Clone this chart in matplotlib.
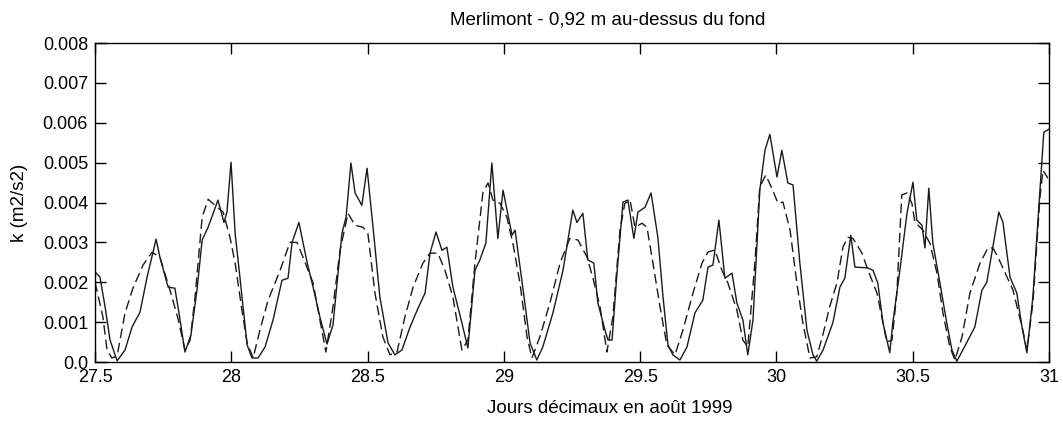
import numpy as np
import matplotlib
matplotlib.use("Agg")
import matplotlib.pyplot as plt

plt.rcParams['font.family'] = ['Liberation Sans', 'DejaVu Sans']

# measured k (solid line), values in 1e-3 m2/s2
t_mes = [27.500, 27.518, 27.537, 27.555, 27.581, 27.610, 27.636, 27.665, 27.691, 27.724,
         27.738, 27.768, 27.793, 27.808, 27.830, 27.852, 27.874, 27.893, 27.915, 27.951,
         27.973, 27.984, 27.999, 28.014, 28.032, 28.058, 28.076, 28.098, 28.124, 28.153,
         28.186, 28.208, 28.223, 28.248, 28.278, 28.300, 28.325, 28.351, 28.373, 28.406,
         28.421, 28.439, 28.454, 28.479, 28.498, 28.520, 28.545, 28.575, 28.600, 28.626,
         28.656, 28.685, 28.711, 28.729, 28.751, 28.773, 28.791, 28.813, 28.846, 28.868,
         28.894, 28.912, 28.934, 28.956, 28.978, 28.997, 29.030, 29.041, 29.066, 29.096,
         29.121, 29.143, 29.180, 29.217, 29.253, 29.268, 29.290, 29.308, 29.330, 29.345,
         29.371, 29.382, 29.397, 29.415, 29.437, 29.455, 29.477, 29.492, 29.518, 29.540,
         29.565, 29.584, 29.602, 29.620, 29.646, 29.672, 29.701, 29.730, 29.749, 29.767,
         29.789, 29.811, 29.837, 29.855, 29.877, 29.895, 29.914, 29.939, 29.958, 29.976,
         30.002, 30.020, 30.042, 30.061, 30.086, 30.112, 30.134, 30.148, 30.171, 30.207,
         30.233, 30.251, 30.273, 30.288, 30.336, 30.354, 30.372, 30.391, 30.416, 30.427,
         30.453, 30.479, 30.501, 30.515, 30.534, 30.545, 30.559, 30.574, 30.600, 30.625,
         30.644, 30.662, 30.684, 30.728, 30.754, 30.772, 30.794, 30.816, 30.831, 30.857,
         30.882, 30.901, 30.919, 30.941, 30.967, 30.981, 31.000]
k_mes = [2.26, 2.13, 1.38, 0.55, 0.03, 0.30, 0.88, 1.25, 2.13, 3.08,
         2.63, 1.88, 1.85, 1.23, 0.25, 0.68, 1.80, 3.06, 3.38, 4.06,
         3.50, 3.76, 5.01, 3.23, 2.10, 0.43, 0.10, 0.10, 0.38, 1.05,
         2.05, 2.10, 3.00, 3.50, 2.50, 1.88, 1.13, 0.45, 0.93, 3.23,
         3.63, 4.99, 4.24, 3.93, 4.86, 3.38, 1.63, 0.48, 0.18, 0.30,
         0.88, 1.35, 1.73, 2.73, 3.26, 2.80, 2.88, 1.88, 0.98, 0.35,
         2.30, 2.56, 2.98, 4.99, 3.10, 4.31, 3.18, 3.31, 2.05, 0.48,
         0.05, 0.38, 1.23, 2.30, 3.81, 3.50, 3.73, 2.56, 2.48, 1.48,
         0.80, 0.55, 0.55, 2.23, 4.01, 4.06, 3.10, 3.76, 3.88, 4.24,
         3.13, 1.63, 0.43, 0.18, 0.05, 0.38, 1.23, 1.55, 2.38, 2.43,
         3.56, 2.10, 2.23, 1.48, 1.05, 0.18, 1.05, 4.31, 5.31, 5.71,
         4.64, 5.31, 4.49, 4.44, 2.48, 0.80, 0.18, 0.02, 0.30, 0.98,
         1.88, 2.10, 3.18, 2.38, 2.36, 2.30, 1.98, 0.98, 0.23, 0.98,
         2.30, 3.73, 4.51, 3.56, 3.43, 2.86, 4.36, 2.98, 1.98, 0.98,
         0.30, 0.02, 0.30, 0.88, 1.80, 2.00, 2.88, 3.76, 3.51, 2.13,
         1.73, 0.88, 0.23, 1.63, 4.31, 5.76, 5.84]

# modelled k (dashed line), values in 1e-3 m2/s2
t_mod = [27.500, 27.529, 27.544, 27.562, 27.581, 27.610, 27.639, 27.676, 27.709, 27.738,
         27.775, 27.804, 27.830, 27.849, 27.867, 27.893, 27.915, 27.940, 27.970, 27.995,
         28.014, 28.039, 28.058, 28.080, 28.105, 28.135, 28.179, 28.215, 28.241, 28.263,
         28.300, 28.347, 28.373, 28.399, 28.428, 28.454, 28.483, 28.501, 28.527, 28.556,
         28.582, 28.608, 28.637, 28.667, 28.703, 28.729, 28.758, 28.784, 28.813, 28.846,
         28.868, 28.894, 28.923, 28.942, 28.960, 28.986, 29.011, 29.033, 29.059, 29.085,
         29.103, 29.132, 29.169, 29.206, 29.242, 29.272, 29.305, 29.327, 29.353, 29.378,
         29.400, 29.426, 29.444, 29.463, 29.481, 29.507, 29.525, 29.547, 29.573, 29.598,
         29.628, 29.657, 29.694, 29.727, 29.749, 29.774, 29.800, 29.822, 29.855, 29.877,
         29.895, 29.921, 29.939, 29.961, 29.983, 30.006, 30.024, 30.050, 30.075, 30.097,
         30.123, 30.148, 30.171, 30.196, 30.222, 30.244, 30.262, 30.281, 30.314, 30.336,
         30.369, 30.391, 30.405, 30.424, 30.442, 30.460, 30.479, 30.497, 30.508, 30.537,
         30.563, 30.589, 30.611, 30.636, 30.655, 30.681, 30.710, 30.747, 30.776, 30.794,
         30.813, 30.846, 30.868, 30.904, 30.919, 30.941, 30.967, 30.978, 30.996]
k_mod = [2.00, 1.13, 0.30, 0.10, 0.15, 1.23, 1.85, 2.43, 2.75, 2.63,
         1.80, 1.10, 0.30, 0.55, 1.63, 3.63, 4.08, 3.93, 3.76, 3.13,
         2.48, 1.30, 0.48, 0.10, 0.80, 1.55, 2.30, 3.00, 3.00, 2.63,
         1.98, 0.25, 1.38, 2.80, 3.73, 3.43, 3.38, 3.23, 1.73, 0.63,
         0.18, 0.25, 1.13, 1.88, 2.48, 2.73, 2.73, 2.30, 1.63, 0.30,
         0.55, 2.48, 4.24, 4.49, 4.06, 3.98, 3.63, 2.98, 1.98, 0.63,
         0.10, 0.63, 1.48, 2.48, 3.10, 3.06, 2.63, 2.10, 1.38, 0.25,
         1.13, 3.31, 3.98, 4.06, 3.38, 3.48, 3.38, 2.48, 1.38, 0.43,
         0.18, 0.80, 1.73, 2.48, 2.76, 2.81, 2.30, 1.98, 1.30, 0.55,
         0.38, 2.48, 4.39, 4.69, 4.36, 3.98, 4.01, 3.31, 1.98, 0.98,
         0.10, 0.13, 0.70, 1.40, 1.98, 2.88, 3.13, 3.10, 2.73, 2.30,
         1.73, 0.98, 0.50, 0.55, 1.73, 4.19, 4.24, 3.98, 3.51, 3.31,
         2.98, 2.23, 1.23, 0.38, 0.05, 0.63, 1.73, 2.48, 2.86, 2.86,
         2.63, 2.13, 1.80, 0.80, 0.30, 1.48, 4.14, 4.81, 4.61]

xticks = [27.5, 28, 28.5, 29, 29.5, 30, 30.5, 31]
xtick_labels = ['27.5', '28', '28.5', '29', '29.5', '30', '30.5', '31']
yticks = [0, 0.001, 0.002, 0.003, 0.004, 0.005, 0.006, 0.007, 0.008]
ytick_labels = ['0.0', '0.001', '0.002', '0.003', '0.004', '0.005', '0.006', '0.007', '0.008']

fig = plt.figure(figsize=(10.63, 4.23), dpi=100)
ax = fig.add_axes([0.0894, 0.1442, 0.8974, 0.7541])

ax.plot(t_mes, np.array(k_mes) * 1e-3, color='#1a1a1a', lw=1.0, ls='-')
ax.plot(t_mod, np.array(k_mod) * 1e-3, color='#1a1a1a', lw=1.0, ls=(0, (7, 3.5)))

ax.set_xlim(27.5, 31)
ax.set_ylim(0, 0.008)
ax.set_xticks(xticks)
ax.set_xticklabels(xtick_labels, fontsize=13)
ax.set_yticks(yticks)
ax.set_yticklabels(ytick_labels, fontsize=13)
ax.tick_params(direction='in', length=8, width=1, top=True, right=True, pad=5)
for s in ax.spines.values():
    s.set_linewidth(1.0)

fig.text(0.572, 0.953, 'Merlimont - 0,92 m au-dessus du fond', ha='center', va='center', fontsize=13.5)
fig.text(0.574, 0.035, 'Jours décimaux en août 1999', ha='center', va='center', fontsize=13.5)
fig.text(0.018, 0.52, 'k (m2/s2)', ha='center', va='center', rotation=90, fontsize=13.5)

fig.savefig('out.png', dpi=100)
